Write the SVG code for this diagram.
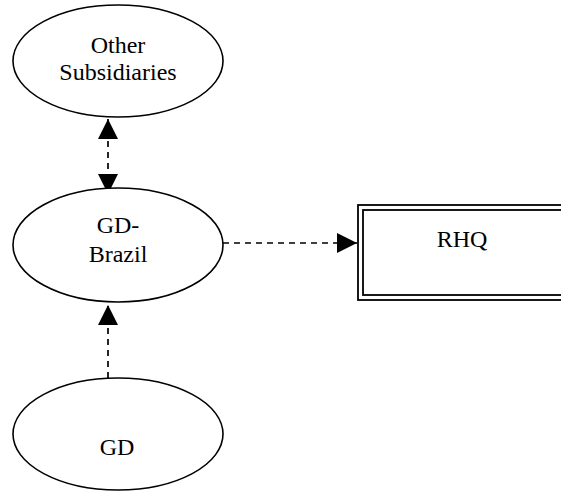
<svg xmlns="http://www.w3.org/2000/svg" width="561" height="491" viewBox="0 0 561 491">
<style>
  .node { fill: #ffffff; stroke: #000000; stroke-width: 1.6; }
  .box { fill: none; stroke: #000000; stroke-width: 1.8; }
  .lbl { font-family: "Liberation Serif", "Times New Roman", serif; font-size: 24px; fill: #000000; text-anchor: middle; }
  .conn { stroke: #000000; stroke-width: 1.7; stroke-dasharray: 6 5; fill: none; }
</style>
<defs>
  <marker id="arrow" viewBox="0 0 20 20" markerWidth="20" markerHeight="20" markerUnits="userSpaceOnUse" refX="20" refY="10" orient="auto-start-reverse">
    <path d="M0,0 L20,10 L0,20 z" fill="#000000"/>
  </marker>
</defs>
<rect width="561" height="491" fill="#ffffff"/>
<g id="connectors">
  <line class="conn" x1="108" y1="119" x2="108" y2="194" marker-start="url(#arrow)" marker-end="url(#arrow)"/>
  <line class="conn" x1="223" y1="243" x2="357" y2="243" marker-end="url(#arrow)"/>
  <line class="conn" x1="108" y1="378" x2="108" y2="305" marker-end="url(#arrow)"/>
</g>
<g id="other-subsidiaries">
  <ellipse class="node" cx="118" cy="61" rx="105" ry="56"/>
  <text class="lbl" x="118" y="53">Other</text>
  <text class="lbl" x="118" y="80">Subsidiaries</text>
</g>
<g id="gd-brazil">
  <ellipse class="node" cx="118" cy="245" rx="105" ry="57"/>
  <text class="lbl" x="118" y="233">GD-</text>
  <text class="lbl" x="118" y="262">Brazil</text>
</g>
<g id="gd">
  <ellipse class="node" cx="118" cy="434" rx="105" ry="56"/>
  <text class="lbl" x="117" y="455">GD</text>
</g>
<g id="rhq">
  <rect class="box" x="358" y="205" width="220" height="95"/>
  <rect class="box" x="363" y="210" width="210" height="85"/>
  <text class="lbl" x="462" y="247">RHQ</text>
</g>
</svg>
